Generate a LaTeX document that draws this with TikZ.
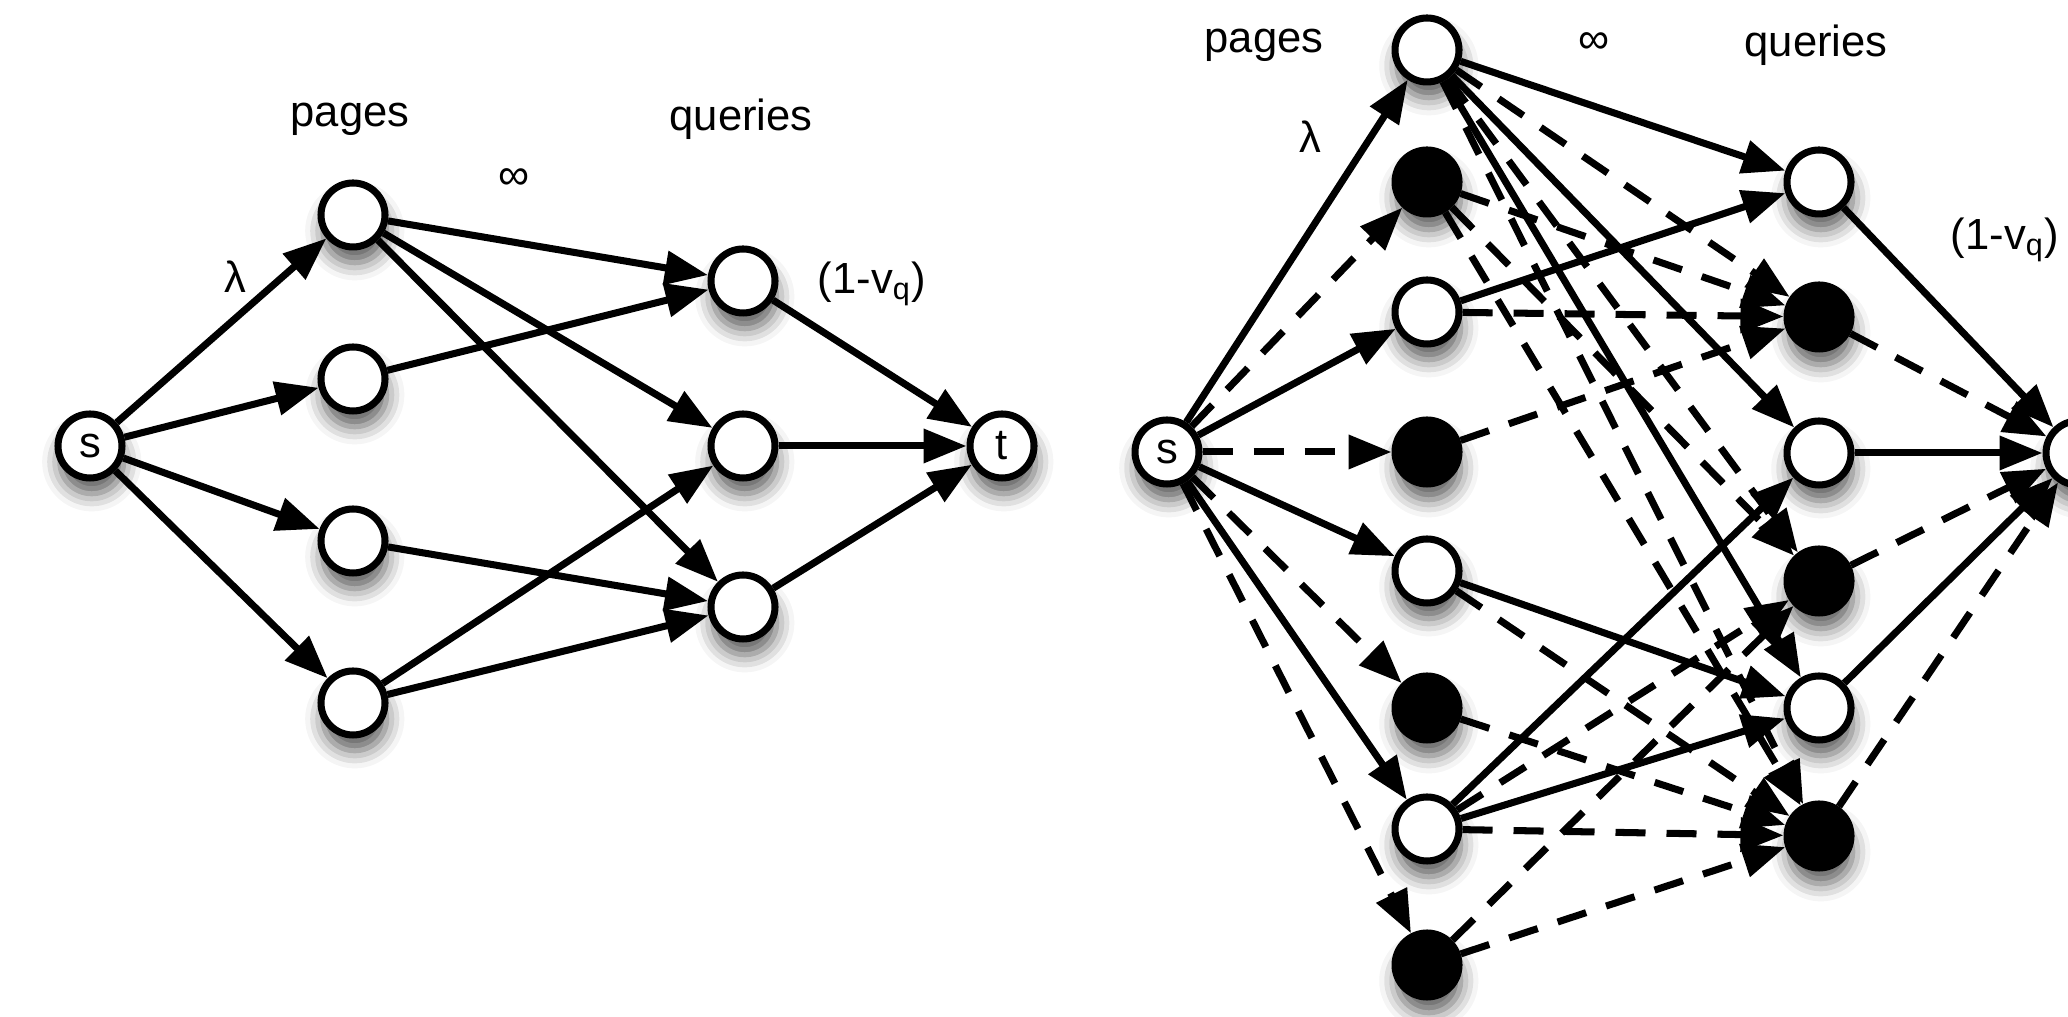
\documentclass[tikz,border=0pt]{standalone}
\usepackage{fontspec}
\setmainfont{Liberation Sans}
\usetikzlibrary{arrows.meta, shadows.blur}
\definecolor{edgecol}{RGB}{0,0,0}
\definecolor{fillcol}{RGB}{255,255,255}

\begin{document}
\begin{tikzpicture}[
    >={Triangle[length=4.3mm,width=3.3mm]},
    line width=2pt,
    font=\fontsize{12.4}{15}\selectfont,
    vertex/.style={circle, draw=edgecol, fill=fillcol, inner sep=0pt, minimum size=6.4mm,
      blur shadow={shadow xshift=0.5pt, shadow yshift=-4.5pt, shadow blur radius=5pt, shadow opacity=65}},
    copyvertex/.style={vertex, fill=edgecol},
    flow/.style={->, edgecol},
    copyflow/.style={->, edgecol, dash pattern=on 3mm off 2.1mm}
  ]

  \useasboundingbox (0,0) rectangle (20.68,10.17);
  \clip (0,0) rectangle (20.68,10.17);

  % --- left network: vertices -----------------------------------------
  \node[vertex] (lS)  at (0.90,5.71)  {s};
  \node[vertex] (lP1) at (3.53,8.02)  {};
  \node[vertex] (lP2) at (3.53,6.38)  {};
  \node[vertex] (lP3) at (3.53,4.76)  {};
  \node[vertex] (lP4) at (3.53,3.14)  {};
  \node[vertex] (lQ1) at (7.43,7.36)  {};
  \node[vertex] (lQ2) at (7.43,5.71)  {};
  \node[vertex] (lQ3) at (7.43,4.10)  {};
  \node[vertex] (lT)  at (10.02,5.71) {t};

  % --- left network: labels -------------------------------------------
  \node (lPages)   at (3.50,8.98) {pages};
  \node (lQueries) at (7.41,8.98) {queries};
  \node (lInf)     at (5.14,8.38) {∞};
  \node (lLambda)  at (2.35,7.40) {λ};
  \node (lCap)     at (8.72,7.33) {(1-v\textsubscript{q})};

  % --- left network: arcs ---------------------------------------------
  \draw[flow] (lS)  edge (lP1) edge (lP2) edge (lP3) edge (lP4);
  \draw[flow] (lP1) edge (lQ1) edge (lQ2) edge (lQ3);
  \draw[flow] (lP2) edge (lQ1);
  \draw[flow] (lP3) edge (lQ3);
  \draw[flow] (lP4) edge (lQ2) edge (lQ3);
  \draw[flow] (lQ1) edge (lT) (lQ2) edge (lT) (lQ3) edge (lT);

  % --- right network: vertices (black = copies) -----------------------
  \node[vertex]     (rS)  at (11.67,5.65) {s};
  \node[vertex]     (rP1) at (14.27,9.67) {};
  \node[copyvertex] (rP2) at (14.27,8.35) {};
  \node[vertex]     (rP3) at (14.27,7.05) {};
  \node[copyvertex] (rP4) at (14.27,5.65) {};
  \node[vertex]     (rP5) at (14.27,4.46) {};
  \node[copyvertex] (rP6) at (14.27,3.09) {};
  \node[vertex]     (rP7) at (14.27,1.88) {};
  \node[copyvertex] (rP8) at (14.27,0.52) {};
  \node[vertex]     (rQ1) at (18.19,8.35) {};
  \node[copyvertex] (rQ2) at (18.19,7.00) {};
  \node[vertex]     (rQ3) at (18.19,5.64) {};
  \node[copyvertex] (rQ4) at (18.19,4.36) {};
  \node[vertex]     (rQ5) at (18.19,3.09) {};
  \node[copyvertex] (rQ6) at (18.19,1.81) {};
  \node[vertex]     (rT)  at (20.78,5.64) {};  % sink, cut by the right edge

  % --- right network: labels ------------------------------------------
  \node (rPages)   at (12.64,9.72) {pages};
  \node (rInf)     at (15.94,9.74) {∞};
  \node (rQueries) at (18.16,9.72) {queries};
  \node (rLambda)  at (13.10,8.80) {λ};
  \node (rCap)     at (20.05,7.77) {(1-v\textsubscript{q})};

  % --- right network: arcs --------------------------------------------
  \draw[flow]     (rS) edge (rP1) edge (rP3) edge (rP5) edge (rP7);
  \draw[copyflow] (rS) edge (rP2) edge (rP4) edge (rP6) edge (rP8);

  \draw[flow] (rP1) edge (rQ1) edge (rQ3) edge (rQ5);
  \draw[flow] (rP3) edge (rQ1);
  \draw[flow] (rP5) edge (rQ5);
  \draw[flow] (rP7) edge (rQ3) edge (rQ5);

  \draw[copyflow] (rP1) edge (rQ2) edge (rQ4) edge (rQ6);
  \draw[copyflow] (rP3) edge (rQ2);
  \draw[copyflow] (rP5) edge (rQ6);
  \draw[copyflow] (rP7) edge (rQ4) edge (rQ6);

  \draw[copyflow] (rP2) edge (rQ2) edge (rQ4) edge (rQ6);
  \draw[copyflow] (rP4) edge (rQ2);
  \draw[copyflow] (rP6) edge (rQ6);
  \draw[copyflow] (rP8) edge (rQ4) edge (rQ6);

  \draw[flow]     (rQ1) edge (rT) (rQ3) edge (rT) (rQ5) edge (rT);
  \draw[copyflow] (rQ2) edge (rT) (rQ4) edge (rT) (rQ6) edge (rT);

\end{tikzpicture}
\end{document}
